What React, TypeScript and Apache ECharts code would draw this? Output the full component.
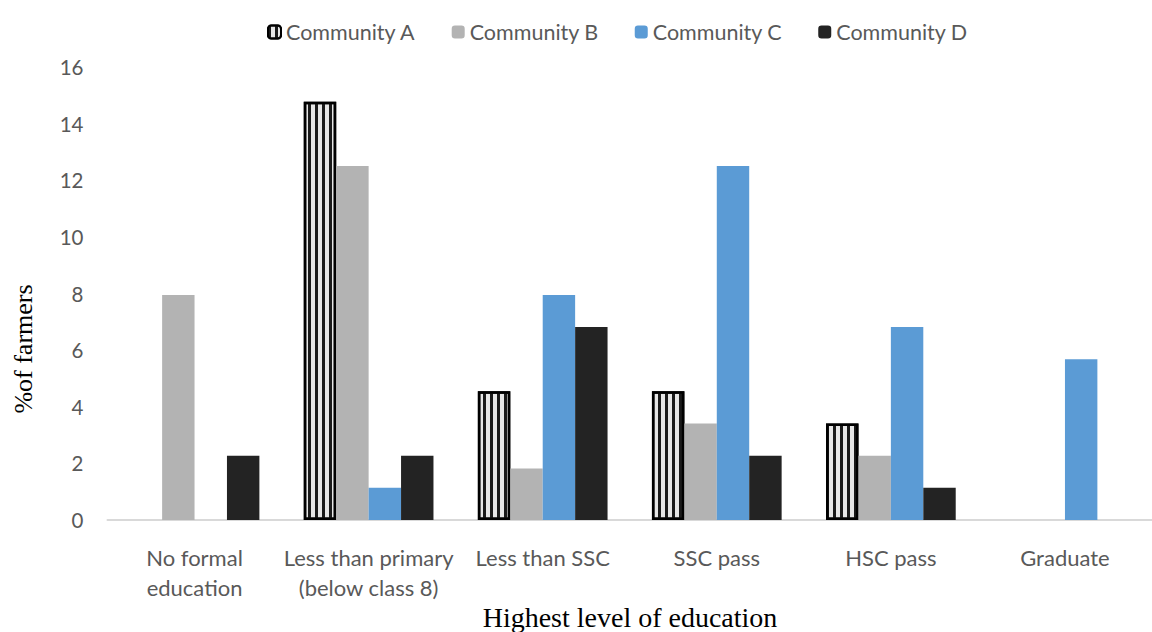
import React, { useEffect, useRef } from "react";
import * as echarts from "echarts";

// Education categories and share of farmers (%) per community
const categories = [
  "No formal\neducation",
  "Less than primary\n(below class 8)",
  "Less than SSC",
  "SSC pass",
  "HSC pass",
  "Graduate",
];
const communityA = [0, 14.77, 4.55, 4.55, 3.41, 0];
const communityB = [7.95, 12.5, 1.82, 3.41, 2.27, 0];
const communityC = [0, 1.14, 7.95, 12.5, 6.82, 5.68];
const communityD = [2.27, 2.27, 6.82, 2.27, 1.14, 0];
const yTicks = { min: 0, max: 16, interval: 2 };

const SANS = "Lato, 'Liberation Sans', sans-serif";
const SERIF = "'Liberation Serif', 'Times New Roman', serif";
const TEXT = "#595959";

export default function App() {
  const ref = useRef<HTMLDivElement>(null);

  useEffect(() => {
    if (!ref.current) return;
    const chart = echarts.init(ref.current, undefined, { renderer: "svg" });

    const plain = (name: string, data: number[], color: string) => ({
      name,
      type: "bar",
      data,
      barGap: "0%",
      barCategoryGap: "25.5%",
      itemStyle: { color },
    });

    // Striped bars keep their black outline only where there is a bar to outline
    const striped = communityA.map((v) =>
      v === 0 ? { value: v, itemStyle: { borderWidth: 0 } } : v
    );

    chart.setOption({
      animation: false,
      backgroundColor: "#ffffff",
      legend: {
        left: 262,
        top: 16,
        itemWidth: 13,
        itemHeight: 13,
        itemGap: 36,
        textStyle: { color: TEXT, fontSize: 21.5, fontFamily: SANS },
        data: ["Community A", "Community B", "Community C", "Community D"],
      },
      grid: { left: 107.5, top: 67, width: 1056, height: 453, containLabel: false },
      xAxis: {
        type: "category",
        data: categories,
        axisLine: { lineStyle: { color: "#d9d9d9", width: 2 } },
        axisTick: { show: false },
        axisLabel: {
          color: TEXT,
          fontSize: 22,
          fontFamily: SANS,
          lineHeight: 30,
          margin: 22,
          interval: 0,
        },
      },
      yAxis: {
        type: "value",
        min: yTicks.min,
        max: yTicks.max,
        interval: yTicks.interval,
        splitLine: { show: false },
        axisLine: { show: false },
        axisTick: { show: false },
        axisLabel: { color: TEXT, fontSize: 20.5, fontFamily: SANS, margin: 24 },
      },
      graphic: [
        {
          type: "text",
          x: 23,
          y: 349,
          rotation: Math.PI / 2,
          style: {
            text: "%of farmers",
            fill: "#000",
            fontSize: 26,
            fontFamily: SERIF,
            textAlign: "center",
            textVerticalAlign: "middle",
          },
        },
        {
          type: "text",
          x: 630,
          y: 617,
          style: {
            text: "Highest level of education",
            fill: "#000",
            fontSize: 28,
            fontFamily: SERIF,
            textAlign: "center",
            textVerticalAlign: "middle",
          },
        },
      ],
      series: [
        {
          name: "Community A",
          type: "bar",
          data: striped,
          barGap: "0%",
          barCategoryGap: "25.5%",
          itemStyle: {
            color: "#e6e6e6",
            borderColor: "#000",
            borderWidth: 2.5,
            decal: {
              symbol: "rect",
              symbolSize: 1,
              color: "#1a1a1a",
              backgroundColor: "#e9e9e9",
              dashArrayX: [3, 4],
              dashArrayY: [10, 0],
              rotation: 0,
            },
          },
        },
        plain("Community B", communityB, "#b3b3b3"),
        plain("Community C", communityC, "#5b9bd5"),
        plain("Community D", communityD, "#232323"),
      ],
    });

    return () => chart.dispose();
  }, []);

  return (
    <div
      ref={ref}
      style={{ position: "fixed", left: 0, top: 0, width: 1152, height: 632, background: "#fff" }}
    />
  );
}
